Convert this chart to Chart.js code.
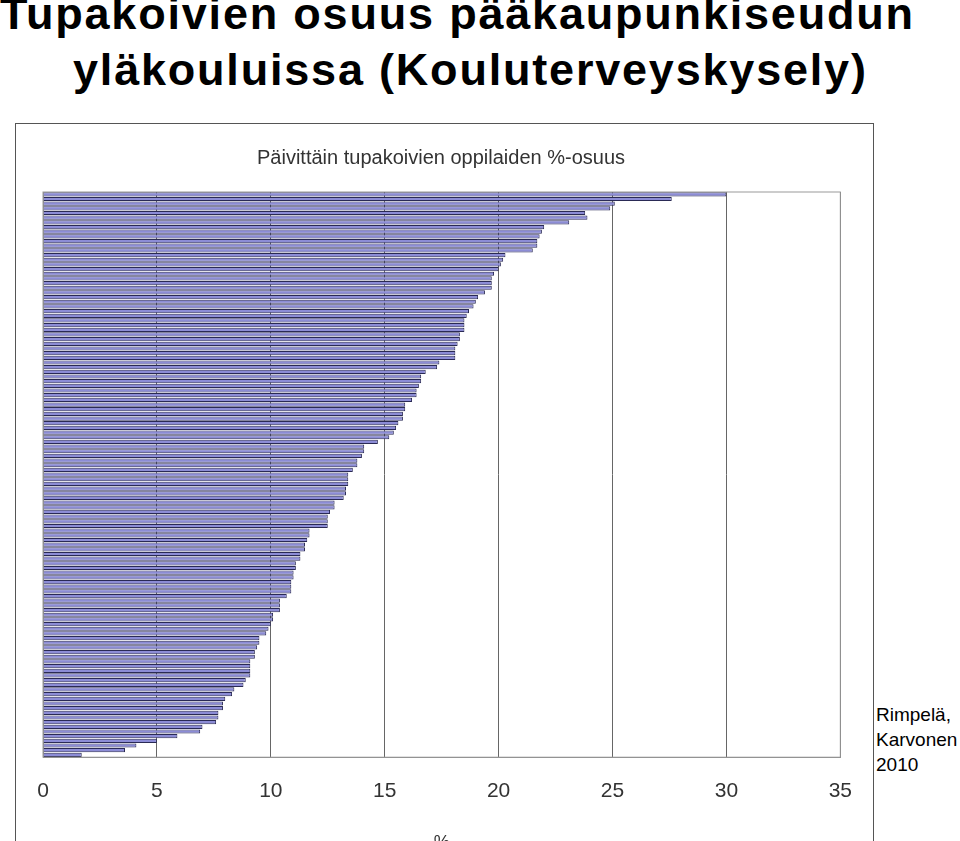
<!DOCTYPE html>
<html>
<head>
<meta charset="utf-8">
<script src="https://cdn.jsdelivr.net/npm/chart.js@4"></script>
<style>
  body { margin: 0; background: #fff; font-family: 'Liberation Sans', Arial, sans-serif; overflow: hidden; }
  h1 { position: absolute; left: 0; top: -14px; margin: 0; font-size: 45px; font-weight: bold; line-height: 56px; color: #000; letter-spacing: 1.8px; white-space: nowrap; }
  h1 span { display: block; }
  #box { position: absolute; left: 15px; top: 123px; width: 857px; height: 740px; border-left: 1px solid #555; border-top: 1px solid #555; border-right: 1px solid #555; }
  #note { position: absolute; left: 876px; top: 702px; font-size: 19px; line-height: 25px; color: #000; }
</style>
</head>
<body>
<h1><span>Tupakoivien osuus pääkaupunkiseudun</span><span style="padding-left:73px">yläkouluissa (Kouluterveyskysely)</span></h1>
<div id="box"><canvas id="barChart"></canvas></div>
<div id="note">Rimpelä,<br>Karvonen<br>2010</div>
<script>
// osuus (%) per koulu, suurimmasta pienimpään
const shares = [
  30.0, 27.6, 25.1, 24.9, 23.8, 23.9, 23.1, 22.0, 21.9, 21.8, 21.7, 21.7, 21.5, 20.3, 20.2, 20.1, 20.0, 19.8, 19.7, 19.7,
  19.7, 19.4, 19.1, 19.0, 18.9, 18.7, 18.6, 18.5, 18.5, 18.5, 18.3, 18.3, 18.2, 18.1, 18.1, 18.1, 17.4, 17.3, 16.8, 16.6,
  16.6, 16.5, 16.4, 16.4, 16.2, 15.9, 15.9, 15.8, 15.8, 15.6, 15.5, 15.4, 15.2, 14.7, 14.1, 14.1, 14.0, 13.8, 13.8, 13.6,
  13.4, 13.4, 13.4, 13.3, 13.3, 13.2, 12.8, 12.8, 12.6, 12.5, 12.5, 12.5, 11.7, 11.7, 11.6, 11.5, 11.5, 11.3, 11.3, 11.1,
  11.1, 11.0, 11.0, 10.9, 10.9, 10.9, 10.7, 10.4, 10.4, 10.4, 10.1, 10.1, 10.0, 9.9, 9.8, 9.5, 9.5, 9.4, 9.3, 9.3,
  9.1, 9.1, 9.1, 9.1, 8.9, 8.8, 8.4, 8.3, 8.0, 7.9, 7.9, 7.7, 7.7, 7.6, 7.0, 6.9, 5.9, 5.0, 4.1, 3.6,
  1.7
];
const schools = shares.map((v, i) => 'Koulu ' + (i + 1));
const xTicks = [0, 5, 10, 15, 20, 25, 30, 35];

const ctx = document.getElementById('barChart').getContext('2d');
ctx.canvas.width = 857; ctx.canvas.height = 740;

new Chart(ctx, {
    type: 'bar',
    data: {
        labels: schools,
        datasets: [{
            label: '%',
            data: shares,
            backgroundColor: '#8c8cd6',
            borderColor: '#2a2a55',
            borderWidth: 1,
            categoryPercentage: 1,
            barPercentage: 0.9
        }]
    },
    options: {
        indexAxis: 'y',
        responsive: false,
        animation: false,
        layout: { padding: { left: 19, right: 26, top: 8, bottom: 6 } },
        plugins: {
            legend: { display: false },
            tooltip: { enabled: false },
            title: {
                display: true,
                text: 'Päivittäin tupakoivien oppilaiden %-osuus',
                color: '#333',
                font: { family: 'Liberation Sans', size: 20, weight: 'normal' },
                padding: { top: 14, bottom: 22 }
            }
        },
        scales: {
            x: {
                min: 0, max: 35,
                afterBuildTicks: axis => { axis.ticks = xTicks.map(v => ({ value: v })); },
                grid: { color: '#666', lineWidth: 1, drawTicks: false },
                border: { color: '#888' },
                ticks: { color: '#333', padding: 21, font: { family: 'Liberation Sans', size: 21 } },
                title: { display: true, text: '%', color: '#333', font: { family: 'Liberation Sans', size: 18 }, padding: { top: 8 } }
            },
            y: {
                grid: { display: false },
                border: { color: '#888' },
                ticks: { display: false }
            }
        }
    },
    plugins: [{
        id: 'frame',
        afterDraw(chart) {
            const a = chart.chartArea, c = chart.ctx;
            c.save();
            c.strokeStyle = '#999';
            c.lineWidth = 1;
            c.strokeRect(a.left, a.top, a.right - a.left, a.bottom - a.top);
            c.restore();
        }
    }]
});
</script>
</body>
</html>
